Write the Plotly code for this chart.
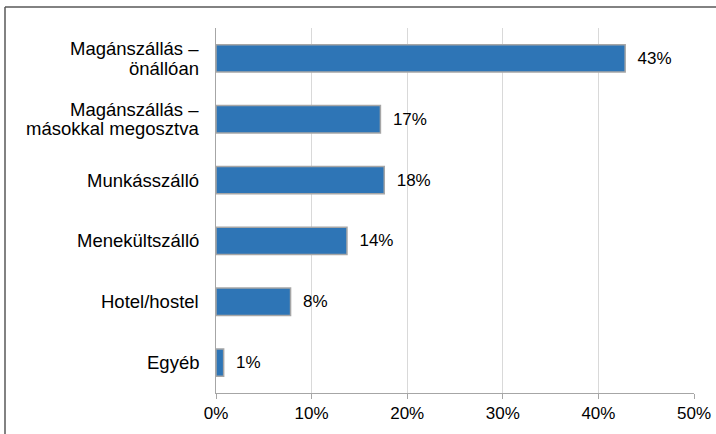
import plotly.graph_objects as go

categories = [
    "Magánszállás –<br>önállóan",
    "Magánszállás –<br>másokkal megosztva",
    "Munkásszálló",
    "Menekültszálló",
    "Hotel/hostel",
    "Egyéb",
]
values = [42.8, 17.2, 17.6, 13.7, 7.8, 0.8]
value_labels = ["43%", "17%", "18%", "14%", "8%", "1%"]
x_tick_vals = [0, 10, 20, 30, 40, 50]
x_tick_text = ["0%", "10%", "20%", "30%", "40%", "50%"]

FONT = "Liberation Sans, Arial, sans-serif"
CAT_SIZE = 18.5
LINE_GAP = 19.4

fig = go.Figure(
    go.Bar(
        x=values,
        y=categories,
        orientation="h",
        text=["  " + t for t in value_labels],
        textposition="outside",
        cliponaxis=False,
        textfont=dict(family=FONT, size=17, color="#000000"),
        marker=dict(color="#2E75B6", line=dict(color="#A6A6A6", width=1.5)),
        width=0.45,
    )
)

# category labels drawn line by line for tight line spacing
annotations = []
for cat in categories:
    lines = cat.split("<br>")
    n = len(lines)
    for i, ln in enumerate(lines):
        offset = ((n - 1) / 2 - i) * LINE_GAP
        annotations.append(
            dict(
                x=0,
                xref="paper",
                y=cat,
                yref="y",
                text=ln,
                showarrow=False,
                xanchor="right",
                yanchor="middle",
                xshift=-15,
                yshift=offset,
                font=dict(family=FONT, size=CAT_SIZE, color="#000000"),
            )
        )

ml, mr, mt, mb = 216, 22, 28, 41
W, H = 716, 434
pw, ph = W - ml - mr, H - mt - mb

bx0 = (5 - ml) / pw
bx1 = (W + 10 - ml) / pw
by0 = -(H + 10 - (H - mb)) / ph
by1 = 1 + (mt - 7) / ph
border = dict(color="#595959", width=1.5)

fig.update_layout(
    width=W,
    height=H,
    margin=dict(l=ml, r=mr, t=mt, b=mb, pad=0),
    paper_bgcolor="white",
    plot_bgcolor="white",
    showlegend=False,
    font=dict(family=FONT, size=17, color="#000000"),
    xaxis=dict(
        range=[0, 50],
        tickvals=x_tick_vals,
        ticktext=x_tick_text,
        showgrid=True,
        gridcolor="#D9D9D9",
        gridwidth=1,
        zeroline=False,
        showline=True,
        linecolor="#A6A6A6",
        linewidth=1,
        ticks="outside",
        ticklen=5,
        tickcolor="#A6A6A6",
        tickfont=dict(family=FONT, size=17, color="#000000"),
        automargin=False,
        fixedrange=True,
    ),
    yaxis=dict(
        categoryorder="array",
        categoryarray=categories[::-1],
        showline=True,
        linecolor="#A6A6A6",
        linewidth=1,
        ticks="",
        showgrid=False,
        showticklabels=False,
        automargin=False,
        fixedrange=True,
    ),
    annotations=annotations,
    shapes=[
        dict(type="line", xref="paper", yref="paper",
             x0=bx0, x1=bx1, y0=by1, y1=by1, line=border, layer="above"),
        dict(type="line", xref="paper", yref="paper",
             x0=bx0, x1=bx0, y0=by0, y1=by1, line=border, layer="above"),
    ],
)

fig.write_html(
    "out.html",
    config={"displayModeBar": False, "staticPlot": False},
    post_script="document.body.style.margin='0';document.body.style.overflow='hidden';",
)
